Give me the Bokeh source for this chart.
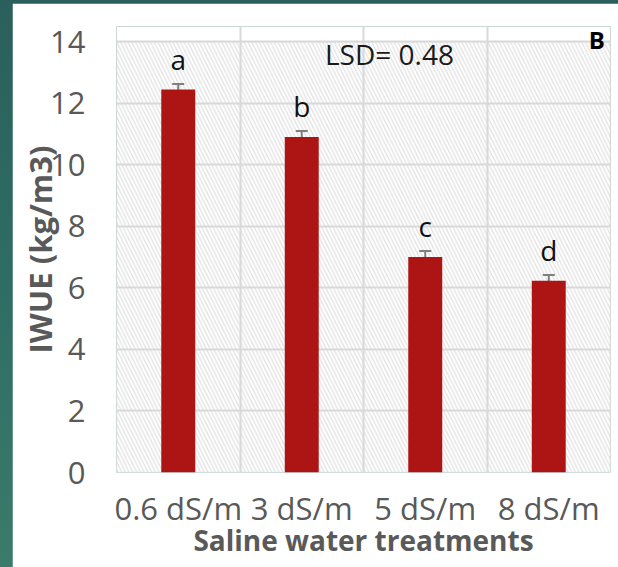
from bokeh.plotting import figure
from bokeh.models import (ColumnDataSource, FixedTicker, BoxAnnotation, Whisker,
                          TeeHead, Label)
from bokeh.layouts import column
from bokeh.embed import file_html
from bokeh.resources import INLINE
from bokeh.core.properties import value

# Irrigation water use efficiency under saline water treatments
categories = ["0.6 dS/m", "3 dS/m", "5 dS/m", "8 dS/m"]
iwue = [12.45, 10.91, 7.01, 6.23]
se = [0.18, 0.19, 0.19, 0.19]
letters = ["a", "b", "c", "d"]
y_ticks = [0, 2, 4, 6, 8, 10, 12, 14]
lsd_text = "LSD= 0.48"
panel_tag = "B"

FONT = "Open Sans"
GREY = "#595959"
GRID = "#d9d9d9"
BAR = "#ad1515"

y_max = y_ticks[-1]
xs = list(range(1, len(categories) + 1))
src = ColumnDataSource(dict(
    x=xs,
    top=iwue,
    upper=[v + e for v, e in zip(iwue, se)],
    lower=[v - e for v, e in zip(iwue, se)],
    letter=letters,
))

# the y range runs a little past the last tick so the panel tag fits inside the frame
p = figure(width=606, height=564, x_range=(0.5, len(categories) + 0.5), y_range=(0, y_max + 0.5),
           output_backend="svg", toolbar_location=None,
           min_border_left=104, min_border_right=8, min_border_top=23, min_border_bottom=95)
p.background_fill_color = "white"
p.border_fill_color = "white"
p.outline_line_color = None

# plot area: diagonal hatch with a light border, bounded at the last tick
p.add_layout(BoxAnnotation(left=0.5, right=len(categories) + 0.5, bottom=0, top=y_max,
                           fill_alpha=0, line_color=GRID, line_width=2,
                           hatch_pattern="\\", hatch_color="#e2e2e2",
                           hatch_scale=7.5, hatch_weight=1.3, level="image"))

# grid: horizontal at y ticks, vertical between categories
p.ygrid.ticker = FixedTicker(ticks=y_ticks)
p.xgrid.ticker = FixedTicker(ticks=[x + 0.5 for x in xs[:-1]])
p.xgrid.bounds = (0, y_max)
for g in (p.xgrid, p.ygrid):
    g.grid_line_color = GRID
    g.grid_line_width = 2

p.vbar(x="x", top="top", width=0.275, source=src, fill_color=BAR, line_color=None)

err_col = "#7f7f7f"
p.add_layout(Whisker(base="x", upper="upper", lower="lower", source=src,
                     line_color=err_col, line_width=2,
                     upper_head=TeeHead(size=12, line_color=err_col, line_width=2),
                     lower_head=TeeHead(size=12, line_color=err_col, line_width=2)))

# significance letters above the error bars
p.text(x="x", y="upper", text="letter", source=src, y_offset=-25,
       text_font=value(FONT), text_font_size="28px", text_color="#111111",
       text_align="center", text_baseline="alphabetic")

p.add_layout(Label(x=2.71, y=13.6, text=lsd_text, text_font=FONT, text_font_size="28px",
                   text_color="#1a1a1a", text_align="center", text_baseline="middle"))
p.add_layout(Label(x=4.39, y=14.08, text=panel_tag, text_font=FONT, text_font_size="24px",
                   text_font_style="bold", text_color="#000000",
                   text_align="center", text_baseline="middle"))

# axes
p.xaxis.ticker = FixedTicker(ticks=xs)
p.xaxis.major_label_overrides = {x: c for x, c in zip(xs, categories)}
p.yaxis.ticker = FixedTicker(ticks=y_ticks)
for ax in (p.xaxis, p.yaxis):
    ax.axis_line_color = None
    ax.major_tick_line_color = None
    ax.minor_tick_line_color = None
    ax.major_label_text_font = FONT
    ax.major_label_text_font_size = "31px"
    ax.major_label_text_color = GREY
    ax.axis_label_text_font = FONT
    ax.axis_label_text_font_style = "bold"
    ax.axis_label_text_color = GREY
p.yaxis.major_label_standoff = 25
p.xaxis.major_label_standoff = 8
p.xaxis.axis_label = "Saline water treatments"
p.xaxis.axis_label_text_font_size = "28px"
p.xaxis.axis_label_standoff = -11
p.yaxis.axis_label = "IWUE (kg/m3)"
p.yaxis.axis_label_text_font_size = "31px"
p.yaxis.axis_label_standoff = -14

page = column(p, styles={
    "padding": "3px 0 0 12px",
    "background": "linear-gradient(180deg, #2b5f5b 0%, #2f6d64 50%, #3a7b6b 100%)",
})

with open("out.html", "w") as f:
    f.write(file_html(page, INLINE))
